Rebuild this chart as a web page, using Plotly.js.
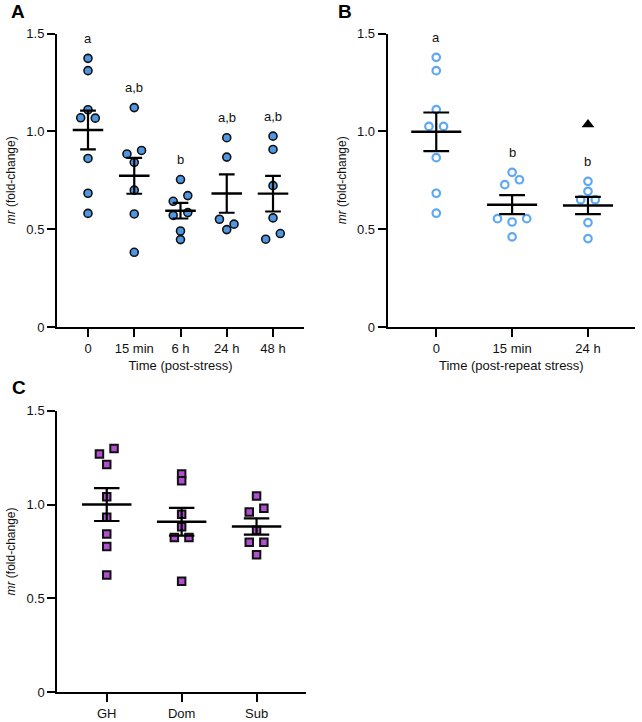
<!DOCTYPE html>
<html>
<head>
<meta charset="utf-8">
<script src="https://cdn.plot.ly/plotly-3.0.1.min.js"></script>
<style>html,body{margin:0;padding:0;background:#fff;}#chart{width:642px;height:722px;}</style>
</head>
<body>
<div id="chart"></div>
<script>
// ---------------- DATA ----------------
// Panel A: post-stress time course
const catsA = ['0', '15 min', '6 h', '24 h', '48 h'];
const A_0h    = [1.374, 1.311, 1.111, 1.070, 1.068, 0.862, 0.684, 0.581];
const A_15min = [1.122, 0.885, 0.903, 0.842, 0.700, 0.578, 0.382];
const A_6h    = [0.754, 0.643, 0.672, 0.571, 0.585, 0.491, 0.447];
const A_24h   = [0.968, 0.869, 0.551, 0.526, 0.498];
const A_48h   = [0.976, 0.908, 0.723, 0.558, 0.449, 0.478];
const lettersA = ['a', 'a,b', 'b', 'a,b', 'a,b'];

// Panel B: post-repeat stress
const catsB = ['0', '15 min', '24 h'];
const B_0h    = [1.379, 1.311, 1.112, 1.026, 1.026, 0.866, 0.684, 0.582];
const B_15min = [0.791, 0.728, 0.753, 0.554, 0.537, 0.554, 0.461];
const B_24h   = [0.745, 0.694, 0.651, 0.651, 0.534, 0.452];
const lettersB = ['a', 'b', 'b'];
const triangleCatB = ['24 h'];
const triangleValB = [1.036];

// Panel C: social status
const catsC = ['GH', 'Dom', 'Sub'];
const C_GH  = [1.269, 1.299, 1.214, 1.042, 0.932, 0.843, 0.776, 0.625];
const C_Dom = [1.163, 1.127, 0.948, 0.882, 0.825, 0.825, 0.591];
const C_Sub = [1.046, 0.960, 0.980, 0.863, 0.799, 0.799, 0.733];

const yTickVals = [0, 0.5, 1.0, 1.5];
const yTickText = ['0', '0.5', '1.0', '1.5'];

// ---------------- LAYOUT CONSTANTS ----------------
const W = 642, H = 722;
const FONT = 'Arial, "Liberation Sans", sans-serif';
const dom = {
  xA: [57 / W, 304 / W], yA: [1 - 327 / H, 1 - 33.7 / H], rA: [-0.67, 4.67],
  xB: [387.7 / W, 635 / W], yB: [1 - 327 / H, 1 - 33.7 / H], rB: [-0.64, 2.62],
  xC: [57.3 / W, 306 / W], yC: [1 - 692.3 / H, 1 - 410.7 / H], rC: [-0.66, 2.66]
};
const YMAX = 1.5;

function mean(v) { return v.reduce((a, b) => a + b, 0) / v.length; }
function sem(v) {
  const m = mean(v);
  const s = Math.sqrt(v.reduce((a, b) => a + (b - m) * (b - m), 0) / (v.length - 1));
  return s / Math.sqrt(v.length);
}
// GraphPad-like row layout: points within a small vertical band share a row and are spread symmetrically
function swarm(vals, pxPerUnit, pxPerCat) {
  const rowTol = 6.2 / pxPerUnit;
  const half = 7.3 / pxPerCat;
  const idx = vals.map((v, i) => i).sort((a, b) => (vals[b] - vals[a]) || (a - b));
  const rows = [];
  let cur = null;
  idx.forEach(i => {
    if (cur && vals[cur[0]] - vals[i] <= rowTol) cur.push(i);
    else { cur = [i]; rows.push(cur); }
  });
  const off = new Array(vals.length).fill(0);
  rows.forEach(r => {
    const s = r.slice().sort((a, b) => a - b);
    const n = s.length;
    s.forEach((i, k) => { off[i] = (k - (n - 1) / 2) * 2 * half; });
  });
  return off;
}

const traces = [];
const annotations = [];

function panel(groups, cats, xd, yd, rng, xa, ya, markerStyle, letters) {
  const pxPerUnit = H * (yd[1] - yd[0]) / YMAX;
  const pxPerCat = W * (xd[1] - xd[0]) / (rng[1] - rng[0]);
  const capPx = 0.17 * pxPerCat;
  const px = [], py = [];
  groups.forEach((g, i) => {
    const off = swarm(g, pxPerUnit, pxPerCat);
    g.forEach((v, k) => { px.push(i + off[k]); py.push(v); });
  });
  traces.push({
    type: 'scatter', mode: 'markers', x: px, y: py, xaxis: xa, yaxis: ya,
    marker: markerStyle, hoverinfo: 'skip', showlegend: false, cliponaxis: false
  });
  const mx = [], my = [];
  const means = groups.map(mean), sems = groups.map(sem);
  means.forEach((m, i) => { mx.push(i - 0.33, i + 0.33, null); my.push(m, m, null); });
  traces.push({
    type: 'scatter', mode: 'lines', x: mx, y: my, xaxis: xa, yaxis: ya,
    line: { color: '#000', width: 2.4 }, hoverinfo: 'skip', showlegend: false
  });
  traces.push({
    type: 'scatter', mode: 'markers', x: cats.map((c, i) => i), y: means, xaxis: xa, yaxis: ya,
    marker: { size: 1, opacity: 0 },
    error_y: { type: 'data', array: sems, visible: true, color: '#000', thickness: 2.2, width: capPx },
    hoverinfo: 'skip', showlegend: false
  });
  if (letters) {
    letters.forEach((t, i) => {
      annotations.push({
        xref: xa, yref: ya, x: i, y: Math.max.apply(null, groups[i]), yshift: 20,
        text: t, showarrow: false, font: { family: FONT, size: 13, color: '#111' }
      });
    });
  }
}

panel([A_0h, A_15min, A_6h, A_24h, A_48h], catsA, dom.xA, dom.yA, dom.rA, 'x', 'y',
  { symbol: 'circle', size: 8, color: '#4f97e3', line: { color: '#111', width: 1.6 } }, lettersA);
panel([B_0h, B_15min, B_24h], catsB, dom.xB, dom.yB, dom.rB, 'x2', 'y2',
  { symbol: 'circle-open', size: 7.5, color: '#5ea8f2', line: { color: '#5ea8f2', width: 2.2 } }, lettersB);
panel([C_GH, C_Dom, C_Sub], catsC, dom.xC, dom.yC, dom.rC, 'x3', 'y3',
  { symbol: 'square', size: 7.5, color: '#b04fd0', line: { color: '#111', width: 2 } }, null);

traces.push({
  type: 'scatter', mode: 'markers', xaxis: 'x2', yaxis: 'y2',
  x: triangleCatB.map(c => catsB.indexOf(c)), y: triangleValB,
  marker: { symbol: 'triangle-up', size: 11, color: '#000' }, hoverinfo: 'skip', showlegend: false
});

function xAxis(d, r, cats, title, anchor) {
  const ax = {
    domain: d, range: r, anchor: anchor, type: 'linear',
    tickvals: cats.map((c, i) => i), ticktext: cats,
    showline: true, linecolor: '#000', linewidth: 2,
    ticks: 'outside', ticklen: 8, tickwidth: 2, tickcolor: '#000',
    showgrid: false, zeroline: false, fixedrange: true,
    tickfont: { family: FONT, size: 13, color: '#111' }
  };
  if (title) ax.title = { text: title, font: { family: FONT, size: 13, color: '#111' }, standoff: 6 };
  return ax;
}
function yAxis(d, anchor) {
  return {
    domain: d, range: [0, YMAX], anchor: anchor,
    tickvals: yTickVals, ticktext: yTickText,
    showline: true, linecolor: '#000', linewidth: 2,
    ticks: 'outside', ticklen: 8, tickwidth: 2, tickcolor: '#000',
    showgrid: false, zeroline: false, fixedrange: true,
    tickfont: { family: FONT, size: 13, color: '#111' },
    title: { text: '<i>mr</i> (fold-change)', font: { family: FONT, size: 12, color: '#111' }, standoff: 8 }
  };
}

const panelLetters = [['A', 18, 12], ['B', 345, 12], ['C', 19, 387]];
panelLetters.forEach(p => annotations.push({
  xref: 'paper', yref: 'paper', x: p[1] / W, y: 1 - p[2] / H, xanchor: 'center', yanchor: 'middle',
  text: '<b>' + p[0] + '</b>', showarrow: false, font: { family: FONT, size: 19, color: '#000' }
}));

const layout = {
  width: W, height: H, margin: { l: 0, r: 0, t: 0, b: 0 },
  paper_bgcolor: '#fff', plot_bgcolor: '#fff', showlegend: false,
  font: { family: FONT, color: '#111' },
  xaxis: xAxis(dom.xA, dom.rA, catsA, 'Time (post-stress)', 'y'),
  yaxis: yAxis(dom.yA, 'x'),
  xaxis2: xAxis(dom.xB, dom.rB, catsB, 'Time (post-repeat stress)', 'y2'),
  yaxis2: yAxis(dom.yB, 'x2'),
  xaxis3: xAxis(dom.xC, dom.rC, catsC, null, 'y3'),
  yaxis3: yAxis(dom.yC, 'x3'),
  annotations: annotations
};

Plotly.newPlot('chart', traces, layout, { staticPlot: true, displayModeBar: false });
</script>
</body>
</html>
